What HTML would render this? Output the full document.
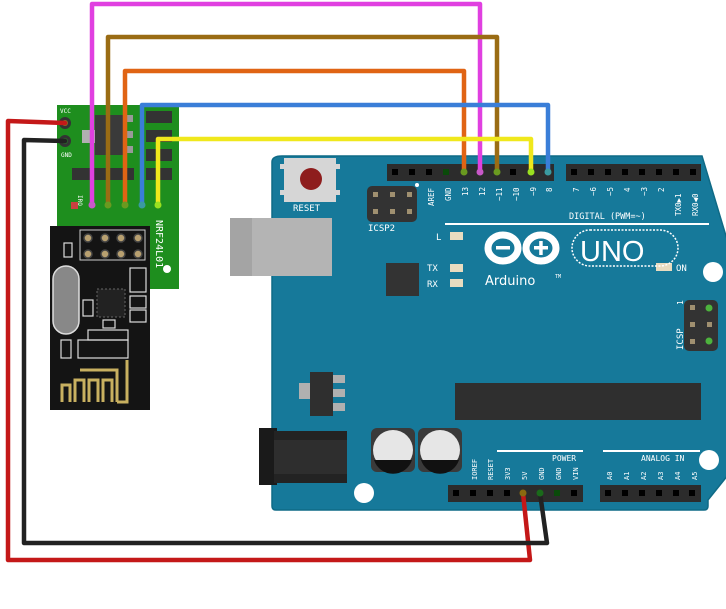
<!DOCTYPE html>
<html><head><meta charset="utf-8"><style>
html,body{margin:0;padding:0;background:#fff;width:726px;height:609px;overflow:hidden}
svg{display:block}
text{font-family:"DejaVu Sans Mono","Liberation Mono",monospace;fill:#fff}
</style></head><body>
<svg width="726" height="609" viewBox="0 0 726 609" xmlns="http://www.w3.org/2000/svg">
<path d="M282,156 L702,156 L732,256 L732,470 L708,500 L708,506 Q708,510 704,510 L276,510 Q272,510 272,506 L272,162 Q272,156 282,156 Z" fill="#16799a" stroke="#0f6a86" stroke-width="1.5"/>
<circle cx="301" cy="177" r="9" fill="#fff"/>
<circle cx="713" cy="272" r="10" fill="#fff"/>
<circle cx="364" cy="493" r="10" fill="#fff"/>
<circle cx="709" cy="460" r="10" fill="#fff"/>
<rect x="284" y="158" width="52" height="44" fill="#d6d6d6"/>
<rect x="280" y="164" width="6" height="5" fill="#d6d6d6"/><rect x="334" y="164" width="6" height="5" fill="#d6d6d6"/>
<rect x="280" y="190" width="6" height="5" fill="#d6d6d6"/><rect x="334" y="190" width="6" height="5" fill="#d6d6d6"/>
<circle cx="311" cy="179" r="11" fill="#8e1d1d"/>
<text x="293" y="211" font-size="9">RESET</text>
<rect x="367" y="186" width="50" height="36" rx="5" fill="#333"/>
<g fill="#a09070"><rect x="373" y="192" width="5" height="5"/><rect x="390" y="192" width="5" height="5"/><rect x="407" y="192" width="5" height="5"/><rect x="373" y="209" width="5" height="5"/><rect x="390" y="209" width="5" height="5"/><rect x="407" y="209" width="5" height="5"/></g>
<text x="368" y="231" font-size="9">ICSP2</text>
<rect x="230" y="218" width="102" height="58" fill="#b4b4b4"/>
<rect x="230" y="218" width="22" height="58" fill="#a4a4a4"/>
<rect x="387" y="164" width="167" height="17" fill="#2c2c2c"/>
<rect x="566" y="164" width="135" height="17" fill="#2c2c2c"/>
<g fill="#000">
<rect x="392" y="169" width="6" height="6"/><rect x="409" y="169" width="6" height="6"/><rect x="426" y="169" width="6" height="6"/><rect x="510" y="169" width="6" height="6"/>
<rect x="571" y="169" width="6" height="6"/><rect x="588" y="169" width="6" height="6"/><rect x="605" y="169" width="6" height="6"/><rect x="622" y="169" width="6" height="6"/><rect x="639" y="169" width="6" height="6"/><rect x="656" y="169" width="6" height="6"/><rect x="673" y="169" width="6" height="6"/><rect x="690" y="169" width="6" height="6"/>
</g>
<rect x="443" y="169" width="6" height="6" fill="#0a4a0a"/>
<circle cx="417" cy="185" r="2" fill="#fff"/>
<g font-size="7.5">
<text transform="translate(434,206) rotate(-90)">AREF</text>
<text transform="translate(451,201) rotate(-90)">GND</text>
<text transform="translate(468,196) rotate(-90)">13</text>
<text transform="translate(485,196) rotate(-90)">12</text>
<text transform="translate(502,201) rotate(-90)">~11</text>
<text transform="translate(519,201) rotate(-90)">~10</text>
<text transform="translate(536,196) rotate(-90)">~9</text>
<text transform="translate(552,192) rotate(-90)">8</text>
<text transform="translate(579,192) rotate(-90)">7</text>
<text transform="translate(596,196) rotate(-90)">~6</text>
<text transform="translate(613,196) rotate(-90)">~5</text>
<text transform="translate(630,192) rotate(-90)">4</text>
<text transform="translate(647,196) rotate(-90)">~3</text>
<text transform="translate(664,192) rotate(-90)">2</text>
<text transform="translate(681,216) rotate(-90)">TX0▶1</text>
<text transform="translate(698,216) rotate(-90)">RX0◀0</text>
</g>
<text x="569" y="219" font-size="8.5">DIGITAL (PWM=~)</text>
<rect x="445" y="223" width="264" height="2" fill="#fff"/>
<text x="436" y="240" font-size="9">L</text>
<rect x="450" y="232" width="13" height="8" fill="#e8dcc0"/>
<text x="427" y="271" font-size="9">TX</text>
<rect x="450" y="264" width="13" height="8" fill="#e8dcc0"/>
<text x="427" y="287" font-size="9">RX</text>
<rect x="450" y="279" width="13" height="8" fill="#e8dcc0"/>
<rect x="386" y="263" width="33" height="33" fill="#333"/>
<rect x="656" y="263" width="16" height="8" fill="#e8dcc0"/>
<text x="676" y="271" font-size="9">ON</text>
<g fill="none" stroke="#fff" stroke-width="7">
<ellipse cx="503" cy="248" rx="15" ry="13"/>
<ellipse cx="541" cy="248" rx="15" ry="13"/>
</g>
<rect x="496" y="246" width="14" height="3.5" fill="#fff"/>
<rect x="534" y="246" width="14" height="3.5" fill="#fff"/>
<rect x="539.2" y="241" width="3.5" height="14" fill="#fff"/>
<rect x="572" y="230" width="106" height="36" rx="18" fill="none" stroke="#fff" stroke-width="1.5" stroke-dasharray="2 1.5"/>
<text x="580" y="261" font-size="29" style="font-family:'Liberation Sans',sans-serif">UNO</text>
<text x="485" y="285" font-size="13" style="font-family:'DejaVu Sans',sans-serif">Arduino</text>
<text x="555" y="278" font-size="5">TM</text>
<rect x="684" y="300" width="34" height="51" rx="5" fill="#333"/>
<g fill="#a09070"><rect x="690" y="305" width="5" height="5"/><rect x="690" y="322" width="5" height="5"/><rect x="690" y="339" width="5" height="5"/><rect x="707" y="322" width="5" height="5"/></g>
<circle cx="709" cy="308" r="3.5" fill="#4db33d"/><circle cx="709" cy="341" r="3.5" fill="#4db33d"/>
<text transform="translate(683,350) rotate(-90)" font-size="9">ICSP</text>
<text transform="translate(683,305) rotate(-90)" font-size="8">1</text>
<rect x="299" y="383" width="16" height="16" fill="#b0b0b0"/>
<rect x="310" y="372" width="23" height="44" fill="#2f2f2f"/>
<g fill="#b0b0b0"><rect x="333" y="375" width="12" height="8"/><rect x="333" y="389" width="12" height="8"/><rect x="333" y="403" width="12" height="8"/></g>
<rect x="455" y="383" width="246" height="37" fill="#2f2f2f"/>
<rect x="259" y="428" width="18" height="57" fill="#1a1a1a"/>
<rect x="274" y="431" width="73" height="52" fill="#232323"/>
<rect x="274" y="440" width="73" height="34" fill="#2e2e2e"/>
<rect x="371" y="428" width="44" height="44" rx="6" fill="#3a3a3a"/>
<circle cx="393" cy="450" r="20" fill="#e6e6e6"/>
<path d="M374,460 A20,20 0 0 0 412,460 Z" fill="#111"/>
<rect x="418" y="428" width="44" height="44" rx="6" fill="#3a3a3a"/>
<circle cx="440" cy="450" r="20" fill="#e6e6e6"/>
<path d="M421,460 A20,20 0 0 0 459,460 Z" fill="#111"/>
<rect x="497" y="450" width="86" height="2" fill="#fff"/>
<rect x="603" y="450" width="97" height="2" fill="#fff"/>
<text x="552" y="461" font-size="8">POWER</text>
<text x="641" y="461" font-size="8">ANALOG IN</text>
<g font-size="7">
<text transform="translate(477,480) rotate(-90)">IOREF</text>
<text transform="translate(493,480) rotate(-90)">RESET</text>
<text transform="translate(510,480) rotate(-90)">3V3</text>
<text transform="translate(527,480) rotate(-90)">5V</text>
<text transform="translate(544,480) rotate(-90)">GND</text>
<text transform="translate(561,480) rotate(-90)">GND</text>
<text transform="translate(578,480) rotate(-90)">VIN</text>
<text transform="translate(612,480) rotate(-90)">A0</text>
<text transform="translate(629,480) rotate(-90)">A1</text>
<text transform="translate(646,480) rotate(-90)">A2</text>
<text transform="translate(663,480) rotate(-90)">A3</text>
<text transform="translate(680,480) rotate(-90)">A4</text>
<text transform="translate(697,480) rotate(-90)">A5</text>
</g>
<rect x="448" y="485" width="135" height="17" fill="#2c2c2c"/>
<rect x="600" y="485" width="101" height="17" fill="#2c2c2c"/>
<g fill="#000">
<rect x="453" y="490" width="6" height="6"/><rect x="470" y="490" width="6" height="6"/><rect x="487" y="490" width="6" height="6"/><rect x="504" y="490" width="6" height="6"/><rect x="571" y="490" width="6" height="6"/>
<rect x="605" y="490" width="6" height="6"/><rect x="622" y="490" width="6" height="6"/><rect x="639" y="490" width="6" height="6"/><rect x="656" y="490" width="6" height="6"/><rect x="673" y="490" width="6" height="6"/><rect x="689" y="490" width="6" height="6"/>
</g>
<rect x="554" y="490" width="6" height="6" fill="#0a4a0a"/>

<rect x="57" y="105" width="122" height="184" fill="#1e8e1e"/>
<text x="60" y="113" font-size="6">VCC</text>
<text x="61" y="157" font-size="6">GND</text>
<circle cx="65" cy="123" r="6" fill="#333"/><circle cx="65" cy="123" r="3" fill="#8a7020"/>
<circle cx="65" cy="141" r="6" fill="#333"/><circle cx="65" cy="141" r="3" fill="#2a6a2a"/>
<rect x="82" y="130" width="13" height="13" fill="#b0b0b0"/>
<rect x="95" y="115" width="30" height="40" fill="#3a3a3a"/>
<g fill="#999"><rect x="125" y="115" width="8" height="7"/><rect x="125" y="131" width="8" height="7"/><rect x="125" y="146" width="8" height="7"/></g>
<g fill="#333"><rect x="146" y="111" width="26" height="12"/><rect x="146" y="130" width="26" height="12"/><rect x="146" y="149" width="26" height="12"/><rect x="146" y="168" width="26" height="12"/><rect x="72" y="168" width="62" height="12"/></g>
<text transform="translate(78,195) rotate(90)" font-size="6">IRQ</text>
<rect x="71" y="202" width="7" height="7" fill="#c84040"/>
<text transform="translate(156,220) rotate(90)" font-size="10">NRF24L01</text>
<circle cx="167" cy="269" r="4" fill="#fff"/>
<rect x="50" y="226" width="100" height="184" fill="#141414"/>
<rect x="80" y="230" width="65" height="30" fill="none" stroke="#ccc" stroke-width="1"/>
<g fill="#b8a070" stroke="#444" stroke-width="1.5">
<circle cx="88" cy="238" r="4"/><circle cx="105" cy="238" r="4"/><circle cx="121" cy="238" r="4"/><circle cx="138" cy="238" r="4"/>
<circle cx="88" cy="254" r="4"/><circle cx="105" cy="254" r="4"/><circle cx="121" cy="254" r="4"/><circle cx="138" cy="254" r="4"/>
</g>
<rect x="53" y="266" width="26" height="68" rx="13" fill="#888" stroke="#ddd" stroke-width="1.5"/>
<rect x="97" y="289" width="28" height="28" fill="#222" stroke="#666" stroke-dasharray="2 2"/>
<g fill="none" stroke="#ddd" stroke-width="1.2">
<rect x="64" y="243" width="8" height="14"/><rect x="130" y="268" width="16" height="24"/><rect x="130" y="296" width="16" height="12"/><rect x="130" y="310" width="16" height="12"/>
<rect x="83" y="300" width="10" height="16"/><rect x="61" y="340" width="10" height="18"/><rect x="78" y="340" width="50" height="18"/><rect x="88" y="330" width="40" height="10"/><rect x="103" y="320" width="12" height="8"/>
</g>
<path d="M62,402 V385 H70 V402 M75,402 V380 H84 V402 M89,402 V380 H98 V402 M103,402 V380 H112 V402 M117,402 V370 H80 M117,402 H127 V360" fill="none" stroke="#c8b060" stroke-width="3"/>

<g fill="none" stroke-linejoin="round" stroke-linecap="round" stroke-width="4.5">
<path d="M92,205 V4 H480 V172" stroke="#e040e0"/>
<path d="M108,205 V37 H497 V172" stroke="#9a6c14"/>
<path d="M125,205 V71 H464 V172" stroke="#e06414"/>
<path d="M142,205 V105 H548 V172" stroke="#3a7ed8"/>
<path d="M158,205 V139 H531 V172" stroke="#f0e81c"/>
<path d="M65,123 L8,121 V560 H530 L523,493" stroke="#c41818"/>
<path d="M65,141 L24,140 V543 H547 L540,493" stroke="#222"/>
</g>
<circle cx="92" cy="205" r="3.5" fill="#c858c8"/><circle cx="108" cy="205" r="3.5" fill="#6a9a20"/><circle cx="125" cy="205" r="3.5" fill="#6a9a20"/><circle cx="142" cy="205" r="3.5" fill="#3a9aa0"/><circle cx="158" cy="205" r="3.5" fill="#9ae020"/>
<circle cx="464" cy="172" r="3.5" fill="#6a9a20"/><circle cx="480" cy="172" r="3.5" fill="#c858c8"/><circle cx="497" cy="172" r="3.5" fill="#6a9a20"/><circle cx="531" cy="172" r="3.5" fill="#9ae020"/><circle cx="548" cy="172" r="3.5" fill="#3a9aa0"/>
<circle cx="523" cy="493" r="3.5" fill="#8a6a10"/><circle cx="540" cy="493" r="3.5" fill="#1a6a1a"/>
</svg>
</body></html>
